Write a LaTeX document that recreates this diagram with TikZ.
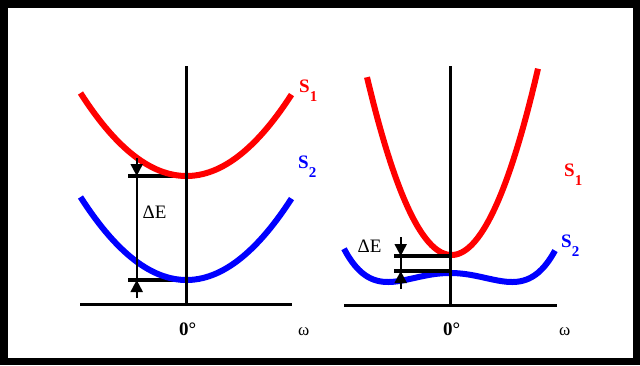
\documentclass[tikz,border=0pt]{standalone}
\usepackage{fontspec}
\setmainfont{Liberation Serif}
\usetikzlibrary{arrows.meta}
\begin{document}
\begin{tikzpicture}[x=1pt,y=-1pt,
  curve/.style={line width=6pt},
  axis/.style={line width=3pt},
  level/.style={line width=4pt},
  gapline/.style={line width=2pt},
  tipline/.style={line width=2pt,-{Triangle[length=12pt,width=12pt]}},
  lbl/.style={font=\fontsize{19}{19}\selectfont, inner sep=0pt},
  zlbl/.style={font=\fontsize{19}{19}\selectfont\bfseries, inner sep=0pt, anchor=base west},
  wlbl/.style={font=\fontsize{17}{17}\selectfont, inner sep=0pt, anchor=base west},
  slbl/.style={font=\fontsize{19}{19}\selectfont\bfseries, inner sep=0pt, anchor=base west}]
\newcommand{\mysub}[1]{\raisebox{-9pt}{\fontsize{15}{15}\selectfont\bfseries #1}}
% frame
\fill[black] (0,0) rectangle (640,365);
\fill[white] (7.5,7.5) rectangle (632.5,357.5);

% ---------------- left panel ----------------
\coordinate (LaxL) at (80,304);
\coordinate (LaxR) at (292,304);
\coordinate (LvT) at (186.5,66);
\coordinate (LvB) at (186.5,304);
\coordinate (LtopL) at (128,176);
\coordinate (LtopR) at (186.5,176);
\coordinate (LbotL) at (128,280);
\coordinate (LbotR) at (186.5,280);
\coordinate (LarT) at (136.7,158);
\coordinate (LarB) at (136.7,298);
\coordinate (LtipT) at (136.7,176);
\coordinate (LtipB) at (136.7,280);

\draw[level] (LtopL) -- (LtopR);
\draw[level] (LbotL) -- (LbotR);
\draw[red,curve] plot[domain=80.5:291.5,samples=60] (\x,{176-0.00739*(\x-186.5)*(\x-186.5)});
\draw[blue,curve] plot[domain=80.5:291.5,samples=60] (\x,{280-0.00739*(\x-186.5)*(\x-186.5)});
\draw[axis] (LaxL) -- (LaxR);
\draw[axis] (LvT) -- (LvB);
\draw[gapline] (LtipT) -- (LtipB);
\draw[tipline] (LarT) -- (LtipT);
\draw[tipline] (LarB) -- (LtipB);

\node[lbl] (LdE) at (154.5,212.5) {ΔE};
\node[slbl,red] (LS1) at (299,92) {S\mysub{1}};
\node[slbl,blue] (LS2) at (298,168) {S\mysub{2}};
\node[zlbl] (L0) at (179,335) {0°};
\node[wlbl] (Lw) at (298,335) {ω};

% ---------------- right panel ----------------
\coordinate (RaxL) at (344,305);
\coordinate (RaxR) at (557,305);
\coordinate (RvT) at (450.7,66);
\coordinate (RvB) at (450.7,305);
\coordinate (RtopL) at (394,256);
\coordinate (RtopR) at (450.7,256);
\coordinate (RbotL) at (394,271);
\coordinate (RbotR) at (450.7,271);
\coordinate (RarT) at (400.7,237);
\coordinate (RarB) at (400.7,289);
\coordinate (RtipT) at (400.7,256);
\coordinate (RtipB) at (400.7,271);

\draw[red,curve] plot[domain=367:538,samples=80] (\x,{255-0.0249*(\x-451.5)*(\x-451.5)});
\draw[blue,curve] plot[domain=344:555,samples=100] (\x,{282-9*((\x-450)*(\x-450)/3844-1)*((\x-450)*(\x-450)/3844-1)});
\draw[level] (RtopL) -- (RtopR);
\draw[level] (RbotL) -- (RbotR);
\draw[axis] (RaxL) -- (RaxR);
\draw[axis] (RvT) -- (RvB);
\draw[gapline] (RtipT) -- (RtipB);
\draw[tipline] (RarT) -- (RtipT);
\draw[tipline] (RarB) -- (RtipB);

\node[lbl] (RdE) at (369.5,246) {ΔE};
\node[slbl,red] (RS1) at (564,176) {S\mysub{1}};
\node[slbl,blue] (RS2) at (561,247) {S\mysub{2}};
\node[zlbl] (R0) at (443,335) {0°};
\node[wlbl] (Rw) at (559,335) {ω};
\end{tikzpicture}
\end{document}
